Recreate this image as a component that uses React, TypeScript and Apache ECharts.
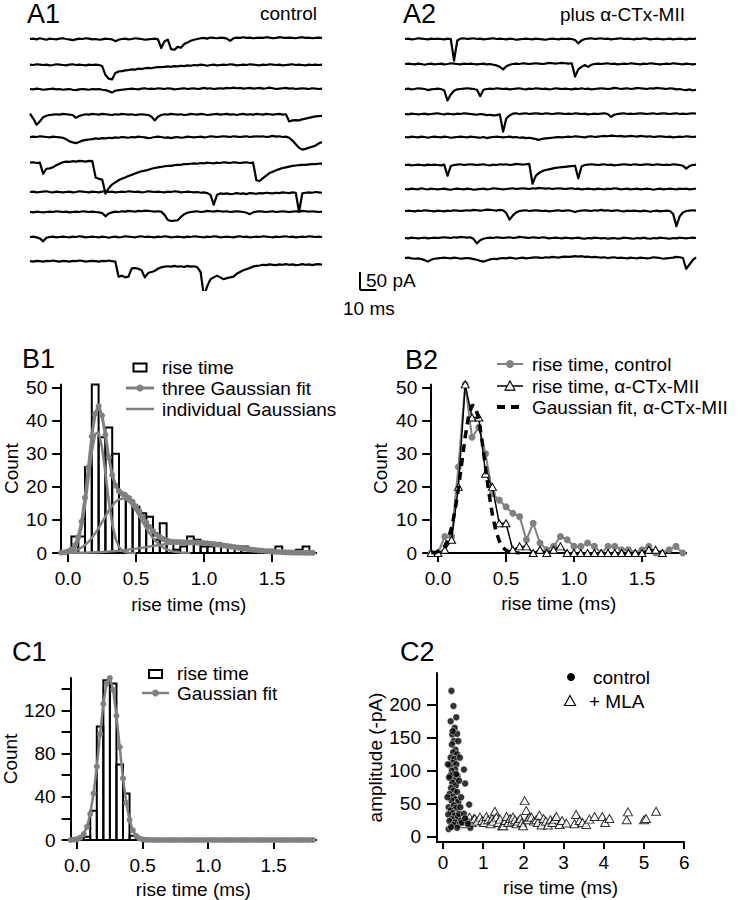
import React, { useEffect, useRef } from "react";
import * as echarts from "echarts";

// ======================= DATA =======================
// A1 control traces (pA, relative to each trace's baseline), one sample per 2 ms
const A1_T1 = [0, 1, -1, 2, 0, -2, 1, 0, -1, 1, 2, 0, -1, -3, -1, 1, 0, 2, 1, -1, 0, -2, -1, 1, 0, -1, -6, -2, 0, 1, -1, 0, 2, 1, 0, -2, -1, 0, 1, -1, -25, -6, -2, -28, -30, -22, -24, -14, -10, -5, -2, 0, 2, 3, 1, 4, 3, 2, 4, 3, 1, -5, 2, 4, 3, 5, 3, 4, 2, 3, 4, 3, 5, 4, 2, 3, 5, 4, 3, 4, 3, 2, 4, 5, 3, 4, 2, 3, 4, 3];
const A1_T2 = [1, 0, 2, 1, 0, 1, -1, 0, 2, 1, 0, -1, 1, 2, 0, 1, 0, -1, 1, 0, 1, 0, -3, -28, -38, -40, -22, -18, -17, -15, -14, -12, -13, -10, -11, -9, -8, -9, -7, -6, -6, -5, -4, -5, -3, -4, -2, -3, -1, -2, 0, -1, 1, 0, -2, 0, 1, -1, 0, 1, 0, 2, 1, -1, 0, 1, 0, 2, 1, 0, -1, 1, 0, 2, 1, 0, 1, -1, 0, 1, 2, 0, 1, 0, -1, 1, 0, 1, 0, 1];
const A1_T3 = [0, -1, 1, 0, -2, -1, 0, 1, -1, 0, -2, -1, 0, -2, -3, -1, 0, -1, -2, 0, -1, 0, -2, -3, -6, -10, -5, -3, -2, -1, 0, 1, 0, -1, 1, 2, 0, 1, 0, 2, 1, 0, 2, 1, -1, 0, 1, 2, 0, 1, 2, 0, 1, 3, 1, 2, 0, 1, 2, 1, 3, 2, 4, 2, 3, 1, 2, 3, 1, 2, 3, 1, 2, 4, 2, 0, 1, 2, 3, 1, 2, 0, 1, 2, 1, 0, 2, 1, 0, 1];
const A1_T4 = [4, -10, -27, -18, -6, -2, 0, 1, 2, 1, 3, 2, 1, 0, -8, -3, 0, 2, 1, 3, 2, 1, 3, 2, 1, 0, 2, 1, 3, 2, 1, 2, 0, 1, 2, 1, 0, -4, -15, -5, 0, 2, 1, 3, 2, 1, 2, 0, 1, 3, 2, 1, 3, 2, 0, 1, 2, 3, 1, 2, 3, 1, 2, 0, 2, 3, 1, 2, 1, 3, 2, 1, 3, 2, 1, 2, 3, 1, 2, -18, -15, -14, -15, -12, -10, -8, -6, -4, -3, -2];
const A1_T5 = [0, 1, 0, 2, 1, 0, -1, 1, 0, -1, -2, -6, -12, -15, -17, -14, -10, -8, -7, -6, -4, -5, -3, -4, -2, -3, -1, -2, 0, -1, -2, 0, -1, 1, 0, -1, -3, -2, 0, 1, 0, -2, -1, -3, -1, 0, -2, -1, 1, 0, -1, 0, 1, -1, 0, 2, 1, 0, 1, 2, 1, 0, 2, 1, 0, 1, 2, 0, 1, 2, 1, 2, 0, 1, 3, 1, 2, 0, 1, -2, -10, -20, -30, -35, -33, -30, -27, -24, -18, -14];
const A1_T6 = [1, 2, 0, 1, -30, -16, -15, -12, -6, -2, 2, 4, 3, 5, 4, 6, 5, 4, 6, 5, -40, -44, -46, -85, -70, -60, -54, -48, -44, -40, -36, -33, -29, -26, -23, -21, -19, -16, -14, -12, -11, -9, -8, -8, -6, -5, -5, -3, -3, -2, -1, -2, 0, -1, 1, 0, -1, 1, 0, 2, 1, 0, 2, 1, 0, 1, 2, 0, 1, -48, -50, -42, -35, -28, -24, -20, -17, -14, -12, -10, -8, -7, -6, -5, -5, -4, -3, -3, -2, -2];
const A1_T7 = [0, 1, -1, 0, 1, 2, 0, -1, 1, 0, -1, 0, 1, -1, 0, 2, 1, 0, -1, 1, 0, -1, 1, 2, 0, 1, -1, 0, 1, 0, 2, 1, 0, 1, -1, 0, 2, 1, 0, 1, 0, -1, 1, 0, 2, 1, -1, 0, 1, 0, -1, 0, -2, -1, -3, -8, -35, -8, -4, -5, -4, -6, -5, -3, -5, -4, -6, -3, -4, -5, -3, -4, -2, -3, -4, -2, -3, -1, -2, -3, -1, -2, -55, -4, -2, -1, -2, 0, -1, -2];
const A1_T8 = [0, -1, 1, 0, -1, 0, 1, 0, 2, 1, 0, 1, -1, 0, 1, 0, 2, 1, 0, 1, 0, -1, -3, -12, -4, -1, 1, 0, 2, 1, 3, 2, 1, 3, 2, 4, 3, 2, 1, 2, 1, -8, -22, -25, -24, -23, -14, -6, -2, 0, 1, 2, 0, 1, 3, 2, 1, 3, 2, 1, 2, 0, 1, 2, 1, 0, -2, -6, -1, 1, 2, 1, 0, 1, 2, 0, 1, 2, 1, 0, 1, 2, 1, 3, 2, 1, 2, 1, 0, 1];
const A1_T9 = [0, 1, -1, -4, -12, -2, 0, 1, -1, 0, 1, 0, -1, 1, 0, 2, 1, -1, 0, 1, 0, -1, 1, 0, -2, 0, 1, -1, 0, 2, 1, 0, -1, 1, 2, 0, 1, 0, -1, 1, 0, 2, 1, -1, 0, 1, 0, -1, 1, 0, 2, 1, 0, -1, 1, 0, 2, 1, -1, 0, 1, 0, -1, 1, 2, 0, 1, -1, 0, 1, 0, 2, 1, 0, -1, 1, 0, 1, 2, 0, 1, -1, 0, 1, 0, 2, 1, 0, 1, 0];
const A1_T10 = [5, 4, 6, 5, 4, 6, 5, 7, 5, 4, 6, 5, 4, 6, 5, 7, 6, 4, 5, 6, 5, 4, 6, 5, 7, 5, 4, -38, -35, -40, -38, -15, -14, -16, -20, -40, -28, -25, -22, -16, -12, -10, -9, -10, -8, -10, -9, -11, -8, -10, -9, -12, -25, -92, -65, -45, -40, -35, -40, -45, -42, -40, -38, -30, -25, -20, -17, -14, -10, -8, -7, -5, -6, -4, -5, -6, -4, -5, -3, -5, -4, -6, -5, -3, -5, -4, -6, -4, -3, -5];

// A2 plus alpha-CTx-MII traces
const A2_T1 = [0, 1, -1, 0, 2, 1, 0, -1, 1, 0, 1, 0, -1, 1, 0, -60, -4, 1, 2, 0, 1, 2, 0, 1, -1, 0, 1, 2, 0, 1, 0, -1, 1, 0, -2, -1, 0, 1, 0, -1, 1, 0, -1, -2, 0, 1, 0, -1, 1, 0, 1, 0, -3, -12, -4, 0, 1, 2, 0, 1, 2, 0, 1, -1, 0, 1, 2, 0, 1, 0, -1, 1, 0, 2, 1, -1, 0, 1, 0, -1, 0, 1, -1, 0, 1, 0, -1, 1, 0, 1];
const A2_T2 = [0, 1, 0, -1, 1, 0, -2, 0, 1, -1, 0, 1, -1, 0, 2, 1, 0, -1, 1, 0, 1, 0, -1, 0, 1, -1, 0, -2, -4, -8, -15, -6, -2, 0, 1, 0, 2, 1, 0, 1, 2, 1, 0, 1, 3, 2, 1, 2, 3, 2, 1, 2, -35, -15, -8, -3, -8, -2, 0, 1, 0, 1, 2, 0, 1, -1, 0, 1, 0, 2, 1, 0, -1, 1, 0, 2, 1, 0, -1, 0, 1, 0, 2, 1, 0, -1, 1, 0, -1, 0];
const A2_T3 = [0, 1, -1, 0, 2, 1, 0, -3, -1, 0, 1, 0, -4, -32, -15, -5, -1, 0, 1, 2, 1, 0, -2, -20, -2, 0, 1, 0, 2, 1, 0, 1, -1, 0, 1, 2, 0, -1, 1, 0, 2, 1, 0, 1, -1, 0, 2, 1, 0, 1, 0, -1, 1, 0, 2, 0, 1, -1, 0, 1, 2, 1, 0, 1, 3, 2, 0, 1, 2, 0, 1, 3, 2, 1, 0, 2, 1, 3, 2, 1, 0, 2, 1, -1, 0, -2, -3, -1, -4, -2];
const A2_T4 = [0, -1, 1, 0, -1, 0, 1, -1, 0, 1, 2, 0, -1, 1, 0, -1, 1, 0, 2, 1, 0, -1, -2, 0, -1, -3, -2, -4, -3, -1, -49, -12, -4, 1, 2, 0, 1, 2, 0, 1, 2, 1, 0, 2, 1, 0, 1, 2, 1, 0, 1, 0, 2, 1, 0, 1, -1, 0, 1, 0, 1, 2, 0, -8, -2, 0, 1, 2, 0, 1, 0, 1, 2, 1, 0, 1, 2, 0, 1, 2, 1, 0, 1, 2, 0, 1, 0, 1, 2, 1];
const A2_T5 = [0, -1, 1, 0, -1, 1, 0, -2, 0, 1, 0, -1, 1, 0, -2, -1, 0, 1, 0, -1, 1, 0, -1, -2, 0, -3, -1, 0, 1, 0, -1, 0, 1, -1, 0, -2, -1, -3, -2, -4, -6, -8, -5, -4, -3, -2, -1, 0, -1, 0, 1, 0, 2, 1, 0, -1, 1, 2, 0, 1, 2, 3, 2, 4, 3, 2, 3, 1, 2, 3, 2, 1, 3, 2, 1, 2, 0, 1, 2, 1, 0, 1, -1, 0, 1, 0, 2, 1, 0, 1];
const A2_T6 = [0, 1, -1, 0, 1, 0, -1, 1, 0, 1, 0, -1, 1, -30, -3, 0, 1, 2, 0, 1, 2, 1, 0, 1, 2, 0, -1, 1, 0, 2, 1, 2, 0, 1, 3, 2, 1, 2, 3, -52, -30, -22, -17, -14, -12, -10, -8, -7, -6, -5, -4, -3, -2, -37, -4, 0, 1, 2, 1, 0, 1, 2, 0, 1, -1, 0, 1, 2, 1, 0, 2, 1, 0, 1, 2, 1, 0, 2, 1, 0, 1, 0, 2, 1, 0, -2, -10, -3, 0, 1];
const A2_T7 = [0, -1, 1, 0, -1, 2, 0, -1, 1, 0, -1, 0, 1, -1, -2, 0, 1, 0, -1, 1, 0, -2, -1, 0, 1, -1, 0, 2, 1, 0, -1, 0, 1, 2, 0, 1, 2, 1, 0, 2, 1, 3, 2, 1, 2, 0, 1, 2, 1, 0, 1, 2, 0, 1, -1, 0, 1, 0, -1, 1, 0, -1, 1, 0, 2, 1, -1, 0, 1, -1, 0, 1, -1, 0, 1, 0, -2, 0, 1, -1, 0, 1, 0, -1, 1, 0, 1, -1, 0, 1];
const A2_T8 = [0, 1, 0, -1, 1, 0, 2, 1, 0, -1, 1, 0, -1, 1, 0, 2, 1, 0, 1, 2, 1, 3, 2, 1, 2, 4, 3, 2, 1, 3, 2, -6, -24, -12, -4, 0, 1, 2, 0, 1, 2, 1, 0, 1, -1, 0, 1, 2, 0, 1, 2, 0, -3, 0, 1, 2, 1, 0, 2, 1, 3, 1, 2, 0, 1, 2, 0, -1, 1, 0, 1, 0, -1, 1, 0, -2, 0, 1, -1, 0, 1, 0, -8, -42, -15, -4, 0, 1, 2, 1];
const A2_T9 = [0, -1, 1, 0, -1, 0, 1, -1, 0, 1, 0, 1, 2, 1, 0, 2, 1, 3, 2, 1, 2, -3, -15, -6, -2, 0, 1, 0, 2, 1, 0, 1, 2, 0, 1, 3, 2, 1, 0, 2, 1, 0, 2, 1, -1, 0, 1, 0, -1, 1, 0, -1, 0, 1, -1, -2, 0, -1, 1, 0, -1, 0, -2, -1, 0, -2, -1, 1, 0, -1, -2, 0, -1, 1, -1, -2, 0, -1, 1, 0, -1, -2, 0, -1, 1, 0, -1, 0, 1, 0];
const A2_T10 = [0, 1, -1, -2, -1, -3, -6, -10, -5, -2, -1, 0, 1, 0, -1, 1, 0, -2, -1, 0, -1, -3, -5, -8, -10, -7, -4, -2, -3, -1, 0, -1, 1, 0, -2, 0, 1, -1, 0, 1, 2, 1, 0, 2, 1, 3, 2, 1, 3, 4, 3, 4, 5, 4, 5, 3, 4, 2, 3, 2, 1, 2, 0, 1, 2, 0, 1, 0, -1, 1, 0, -1, 1, 0, -1, 0, 2, 1, 0, -2, -1, 0, 1, 3, 2, 0, -30, -18, -6, 2];

// B: rise-time distributions (ms, counts)
const RISE_X = [-0.05, 0, 0.05, 0.1, 0.15, 0.2, 0.25, 0.3, 0.35, 0.4, 0.45, 0.5, 0.55, 0.6, 0.65, 0.7, 0.75, 0.8, 0.85, 0.9, 0.95, 1.0, 1.05, 1.1, 1.15, 1.2, 1.25, 1.3, 1.35, 1.4, 1.45, 1.5, 1.55, 1.6, 1.65, 1.7, 1.75, 1.8];
const CONTROL_COUNTS = [0, 0, 5, 5, 26, 51, 35, 38, 30, 18, 16, 14, 12, 11, 4, 9, 3, 1, 2, 5, 4, 2, 2, 3, 2, 0, 2, 2, 1, 1, 0, 1, 2, 0, 0, 1, 2, 0];
const MII_COUNTS = [0, 0, 1, 4, 20, 51, 41, 41, 24, 20, 9, 9, 1, 2, 2, 0, 1, 0, 1, 2, 0, 0, 0, 0, 0, 0, 0, 0, 0, 0, 0, 0, 1, 1, 0];

// fit curves sampled every 0.025 ms
const FIT_X = [-0.05, -0.025, 0, 0.025, 0.05, 0.075, 0.1, 0.125, 0.15, 0.175, 0.2, 0.225, 0.25, 0.275, 0.3, 0.325, 0.35, 0.375, 0.4, 0.425, 0.45, 0.475, 0.5, 0.525, 0.55, 0.575, 0.6, 0.625, 0.65, 0.675, 0.7, 0.725, 0.75, 0.775, 0.8, 0.825, 0.85, 0.875, 0.9, 0.925, 0.95, 0.975, 1.0, 1.025, 1.05, 1.075, 1.1, 1.125, 1.15, 1.175, 1.2, 1.225, 1.25, 1.275, 1.3, 1.325, 1.35, 1.375, 1.4, 1.425, 1.45, 1.475, 1.5, 1.525, 1.55, 1.575, 1.6, 1.625, 1.65, 1.675, 1.7, 1.725, 1.75, 1.775, 1.8];
const THREE_GAUSS_FIT = [0.1, 0.2, 0.5, 1.0, 2.3, 4.8, 9.5, 16.7, 25.9, 35.3, 42.2, 44.4, 41.6, 35.7, 28.9, 23.6, 20.4, 18.7, 17.9, 17.3, 16.6, 15.5, 14.1, 12.6, 10.9, 9.3, 7.9, 6.6, 5.6, 4.8, 4.2, 3.8, 3.5, 3.4, 3.3, 3.3, 3.25, 3.24, 3.22, 3.19, 3.16, 3.1, 3.03, 2.93, 2.82, 2.7, 2.56, 2.42, 2.26, 2.1, 1.94, 1.78, 1.62, 1.47, 1.32, 1.17, 1.04, 0.91, 0.8, 0.69, 0.6, 0.51, 0.43, 0.36, 0.31, 0.25, 0.21, 0.17, 0.14, 0.11, 0.09, 0.07, 0.06, 0.05, 0.04];
const GAUSS_1 = [0.01, 0.04, 0.16, 0.52, 1.48, 3.64, 7.7, 14.2, 22.4, 30.6, 36.0, 36.6, 32.0, 24.2, 15.7, 8.8, 4.3, 1.8, 0.64, 0.2, 0.05, 0.01, 0];
const GAUSS_2 = [0.09, 0.16, 0.28, 0.46, 0.72, 1.12, 1.66, 2.4, 3.35, 4.54, 5.95, 7.55, 9.3, 11.1, 12.8, 14.3, 15.5, 16.2, 16.5, 16.2, 15.5, 14.3, 12.8, 11.1, 9.3, 7.55, 5.95, 4.54, 3.35, 2.4, 1.66, 1.12, 0.72, 0.46, 0.28, 0.16, 0.09, 0.05, 0.02];
const GAUSS_3 = [0.02, 0.03, 0.04, 0.05, 0.06, 0.07, 0.09, 0.11, 0.14, 0.17, 0.21, 0.25, 0.31, 0.36, 0.43, 0.51, 0.6, 0.69, 0.8, 0.91, 1.04, 1.17, 1.32, 1.47, 1.62, 1.78, 1.94, 2.1, 2.26, 2.42, 2.56, 2.7, 2.82, 2.93, 3.03, 3.1, 3.16, 3.19, 3.2, 3.19, 3.16, 3.1, 3.03, 2.93, 2.82, 2.7, 2.56, 2.42, 2.26, 2.1, 1.94, 1.78, 1.62, 1.47, 1.32, 1.17, 1.04, 0.91, 0.8, 0.69, 0.6, 0.51, 0.43, 0.36, 0.31, 0.25, 0.21, 0.17, 0.14, 0.11, 0.09, 0.07, 0.06, 0.05, 0.04];
const MII_GAUSS_FIT = [0.06, 0.16, 0.42, 0.99, 2.1, 4.2, 7.7, 12.8, 19.5, 27.3, 35.1, 41.4, 44.7, 44.3, 40.3, 33.6, 25.7, 18.0, 11.6, 6.8, 3.7, 1.8, 0.83, 0.35, 0.13, 0.05, 0.02];

// C1: rise time with MLA
const C1_BIN_X = [0.075, 0.125, 0.175, 0.225, 0.275, 0.325, 0.375, 0.425, 0.475];
const C1_COUNTS = [3, 27, 105, 148, 145, 70, 43, 4, 1];
const C1_GAUSS_FIT = [0.08, 0.26, 0.81, 2.2, 5.5, 12.2, 24.1, 43, 68, 98, 126, 145, 150, 139, 115, 86, 57, 34.5, 18.6, 9.0, 3.9, 1.5, 0.5, 0.17, 0.05, 0, 0, 0, 0, 0, 0, 0, 0, 0, 0, 0, 0, 0, 0, 0, 0, 0, 0, 0, 0, 0, 0, 0, 0, 0, 0, 0, 0, 0, 0, 0, 0, 0, 0, 0, 0, 0, 0, 0, 0, 0, 0, 0, 0, 0, 0, 0, 0, 0, 0];

// C2: amplitude (-pA) vs rise time (ms)
const C2_CONTROL = [[0.21, 221], [0.26, 198], [0.19, 175], [0.33, 181], [0.29, 165], [0.23, 155], [0.35, 156], [0.27, 145], [0.22, 140], [0.31, 132], [0.25, 128], [0.35, 125], [0.19, 120], [0.28, 118], [0.24, 112], [0.17, 108], [0.33, 110], [0.30, 102], [0.22, 100], [0.26, 95], [0.36, 92], [0.18, 93], [0.29, 86], [0.23, 82], [0.32, 78], [0.20, 74], [0.27, 70], [0.35, 68], [0.16, 65], [0.25, 61], [0.31, 57], [0.21, 55], [0.38, 53], [0.14, 45], [0.27, 48], [0.33, 44], [0.19, 40], [0.24, 36], [0.29, 32], [0.13, 34], [0.37, 30], [0.22, 27], [0.16, 24], [0.30, 22], [0.41, 20], [0.26, 18], [0.14, 12], [0.35, 14], [0.20, 15], [0.45, 25], [0.40, 35], [0.52, 102], [0.55, 81], [0.45, 60], [0.65, 49], [0.52, 35], [0.68, 14], [0.60, 24], [0.42, 120], [0.38, 145], [0.12, 110], [0.15, 90], [0.40, 85], [0.43, 45], [0.11, 60], [0.47, 22], [0.55, 28], [0.62, 20], [0.33, 95], [0.24, 160]];
const C2_MLA = [[0.35, 22], [0.42, 26], [0.48, 20], [0.55, 28], [0.6, 24], [0.66, 30], [0.71, 22], [0.76, 27], [0.79, 28], [0.85, 24], [0.92, 30], [0.97, 25], [1.02, 22], [1.08, 31], [1.12, 26], [1.18, 20], [1.22, 28], [1.25, 24], [1.29, 39], [1.33, 30], [1.38, 22], [1.42, 27], [1.47, 17], [1.5, 17], [1.55, 25], [1.58, 31], [1.62, 22], [1.67, 28], [1.72, 24], [1.74, 30], [1.79, 26], [1.83, 20], [1.87, 24], [1.92, 28], [1.96, 22], [1.99, 17], [2.03, 55], [2.07, 40], [2.1, 26], [2.15, 30], [2.2, 30], [2.26, 24], [2.32, 26], [2.36, 22], [2.4, 33], [2.45, 18], [2.5, 28], [2.56, 24], [2.61, 18], [2.67, 26], [2.72, 22], [2.78, 27], [2.82, 31], [2.9, 19], [2.96, 25], [3.07, 21], [3.27, 20], [3.31, 34], [3.4, 25], [3.47, 22], [3.56, 19], [3.64, 27], [3.77, 31], [3.96, 31], [4.03, 22], [4.14, 28], [4.57, 26], [4.6, 38], [5.0, 26], [5.05, 28], [5.3, 39]];

// tick values
const RISE_TICKS = [0, 0.5, 1, 1.5];
const B_COUNT_TICKS = [0, 10, 20, 30, 40, 50];
const C1_COUNT_TICKS = [0, 20, 40, 60, 80, 100, 120, 140];
const C1_COUNT_LABELS = [0, 40, 80, 120];
const C2_X_TICKS = [0, 1, 2, 3, 4, 5, 6];
const C2_Y_TICKS = [0, 50, 100, 150, 200];

// ======================= LAYOUT / STYLE =======================
const FONT = '"Liberation Sans", Arial, Helvetica, sans-serif';
const GRAY = "#808080";
const FS = 19;
const TRACE_TOP = 20;
const TRACE_H = 270;
const PX_PER_PA = 0.36;
const MS_PER_SAMPLE = 2;
const A1_BASE_PX = [39, 65, 89, 115, 137, 163, 192, 212, 237, 263];
const A2_BASE_PX = [39, 64, 89, 114, 137, 165, 189, 211, 238, 258];
const B_BIN = 0.05;
const C1_BIN = 0.05;

const paOffset = (px: number) => -(px - TRACE_TOP) / PX_PER_PA;
const zip = (xs: number[], ys: number[]) => ys.map((y, i) => [xs[i], y]);

function valueAxis(o: any) {
  return {
    type: "value",
    gridIndex: o.grid,
    min: o.min,
    max: o.max,
    axisLine: { show: true, onZero: false, lineStyle: { color: "#000", width: 2 } },
    axisTick: { show: true, inside: false, length: o.tickLen, lineStyle: { color: "#000", width: 2 }, customValues: o.ticks },
    axisLabel: {
      show: true, margin: o.margin, color: "#000", fontSize: FS, fontFamily: FONT,
      customValues: o.labels, hideOverlap: false,
      formatter: o.fmt || ((v: number) => String(v)),
    },
    splitLine: { show: false },
    name: o.name,
    nameLocation: "middle",
    nameGap: o.nameGap,
    nameTextStyle: { color: "#000", fontSize: FS, fontFamily: FONT },
  };
}

function histSeries(name: string, grid: number, centers: number[], counts: number[], width: number) {
  return {
    type: "custom",
    name,
    xAxisIndex: grid,
    yAxisIndex: grid,
    data: zip(centers, counts).filter((d) => d[1] > 0),
    renderItem: (_p: any, api: any) => {
      const c = api.value(0);
      const v = api.value(1);
      const tl = api.coord([c - width / 2, v]);
      const br = api.coord([c + width / 2, 0]);
      return {
        type: "rect",
        shape: { x: tl[0], y: tl[1], width: br[0] - tl[0], height: br[1] - tl[1] },
        style: { fill: "none", stroke: "#000", lineWidth: 2 },
      };
    },
    z: 2,
  };
}

function txt(x: number, y: number, text: string, size = FS, lineHeight?: number) {
  return {
    type: "text", x, y,
    style: { text, fontSize: size, fontFamily: FONT, fill: "#000", align: "left", verticalAlign: "middle", lineHeight: lineHeight || size + 2 },
  };
}
function ln(x1: number, y1: number, x2: number, y2: number, stroke: string, w: number, dash?: number[]) {
  return { type: "line", shape: { x1, y1, x2, y2 }, style: { stroke, lineWidth: w, lineDash: dash } };
}
function tri(cx: number, cy: number, s: number) {
  return {
    type: "polygon",
    shape: { points: [[cx, cy - s * 0.55], [cx + s * 0.55, cy + s * 0.45], [cx - s * 0.55, cy + s * 0.45]] },
    style: { fill: "#fff", stroke: "#000", lineWidth: 1.2 },
  };
}

function buildOption() {
  const series: any[] = [];
  const traceSeries = (traces: number[][], base: number[], grid: number) => {
    traces.forEach((tr, k) => {
      const off = paOffset(base[k]);
      series.push({
        type: "line", xAxisIndex: grid, yAxisIndex: grid, silent: true,
        showSymbol: false, symbol: "none",
        data: tr.map((v, i) => [i, off + v]),
        lineStyle: { color: "#000", width: 2.2, join: "round" },
      });
    });
  };
  traceSeries([A1_T1, A1_T2, A1_T3, A1_T4, A1_T5, A1_T6, A1_T7, A1_T8, A1_T9, A1_T10], A1_BASE_PX, 0);
  traceSeries([A2_T1, A2_T2, A2_T3, A2_T4, A2_T5, A2_T6, A2_T7, A2_T8, A2_T9, A2_T10], A2_BASE_PX, 1);

  // B1
  series.push(histSeries("rise time", 2, RISE_X, CONTROL_COUNTS, B_BIN));
  [GAUSS_1, GAUSS_2, GAUSS_3].forEach((g) =>
    series.push({
      type: "line", name: "individual Gaussians", xAxisIndex: 2, yAxisIndex: 2,
      showSymbol: false, symbol: "none", data: zip(FIT_X, g),
      lineStyle: { color: GRAY, width: 2.5 }, z: 3,
    })
  );
  series.push({
    type: "line", name: "three Gaussian fit", xAxisIndex: 2, yAxisIndex: 2,
    symbol: "circle", symbolSize: 6, showAllSymbol: true, data: zip(FIT_X, THREE_GAUSS_FIT),
    itemStyle: { color: GRAY }, lineStyle: { color: GRAY, width: 3 }, z: 4,
  });

  // B2
  series.push({
    type: "line", name: "rise time, control", xAxisIndex: 3, yAxisIndex: 3,
    symbol: "circle", symbolSize: 7, showAllSymbol: true, data: zip(RISE_X, CONTROL_COUNTS),
    itemStyle: { color: GRAY }, lineStyle: { color: GRAY, width: 2 }, z: 3,
  });
  series.push({
    type: "line", name: "rise time, α-CTx-MII", xAxisIndex: 3, yAxisIndex: 3,
    symbol: "triangle", symbolSize: [8, 7], showAllSymbol: true, data: zip(RISE_X, MII_COUNTS),
    itemStyle: { color: "#fff", borderColor: "#000", borderWidth: 1 }, lineStyle: { color: "#000", width: 1.5 }, z: 4,
  });
  series.push({
    type: "line", name: "Gaussian fit, α-CTx-MII", xAxisIndex: 3, yAxisIndex: 3,
    showSymbol: false, symbol: "none", data: zip(FIT_X, MII_GAUSS_FIT),
    lineStyle: { color: "#000", width: 3.5, type: [8, 6] }, z: 5,
  });

  // C1
  series.push(histSeries("rise time", 4, C1_BIN_X, C1_COUNTS, C1_BIN));
  series.push({
    type: "line", name: "Gaussian fit", xAxisIndex: 4, yAxisIndex: 4,
    symbol: "circle", symbolSize: 6, showAllSymbol: true, data: zip(FIT_X, C1_GAUSS_FIT),
    itemStyle: { color: GRAY }, lineStyle: { color: GRAY, width: 2.5 }, z: 4,
  });

  // C2
  series.push({
    type: "scatter", name: "+ MLA", xAxisIndex: 5, yAxisIndex: 5, data: C2_MLA,
    symbol: "triangle", symbolSize: [9, 8],
    itemStyle: { color: "#fff", borderColor: "#000", borderWidth: 1 }, z: 3,
  });
  series.push({
    type: "scatter", name: "control", xAxisIndex: 5, yAxisIndex: 5, data: C2_CONTROL,
    symbol: "circle", symbolSize: 7,
    itemStyle: { color: "#000", borderColor: "#fff", borderWidth: 0.6 }, z: 4,
  });

  const riseFmt = (v: number) => v.toFixed(1);
  const traceXMax = A1_T1.length - 1;
  const traceYMin = -TRACE_H / PX_PER_PA;

  // scale bar geometry derived from the trace scales
  const sbX = 360;
  const sbBottom = 290;
  const sbV = 50 * PX_PER_PA;
  const sbH = (10 / MS_PER_SAMPLE) * (292 / traceXMax);

  return {
    animation: false,
    backgroundColor: "#fff",
    grid: [
      { left: 30, top: TRACE_TOP, width: 292, height: TRACE_H },
      { left: 405, top: TRACE_TOP, width: 291, height: TRACE_H },
      { left: 61.2, top: 384.4, width: 255, height: 168.6 },
      { left: 431.2, top: 384.4, width: 255, height: 168.6 },
      { left: 61.2, top: 678, width: 255, height: 165 },
      { left: 437, top: 673, width: 247.2, height: 169 },
    ],
    xAxis: [
      { type: "value", gridIndex: 0, min: 0, max: traceXMax, show: false },
      { type: "value", gridIndex: 1, min: 0, max: traceXMax, show: false },
      valueAxis({ grid: 2, min: -0.05, max: 1.825, ticks: RISE_TICKS, labels: RISE_TICKS, tickLen: 9, margin: 16, fmt: riseFmt, name: "rise time (ms)", nameGap: 42 }),
      valueAxis({ grid: 3, min: -0.05, max: 1.825, ticks: RISE_TICKS, labels: RISE_TICKS, tickLen: 9, margin: 16, fmt: riseFmt, name: "rise time (ms)", nameGap: 41 }),
      valueAxis({ grid: 4, min: -0.05, max: 1.825, ticks: RISE_TICKS, labels: RISE_TICKS, tickLen: 9, margin: 16, fmt: riseFmt, name: "rise time (ms)", nameGap: 40 }),
      valueAxis({ grid: 5, min: -0.15, max: 6, ticks: C2_X_TICKS, labels: C2_X_TICKS, tickLen: 7, margin: 11, name: "rise time (ms)", nameGap: 36 }),
    ],
    yAxis: [
      { type: "value", gridIndex: 0, min: traceYMin, max: 0, show: false },
      { type: "value", gridIndex: 1, min: traceYMin, max: 0, show: false },
      valueAxis({ grid: 2, min: 0, max: 51, ticks: B_COUNT_TICKS, labels: B_COUNT_TICKS, tickLen: 9, margin: 14, name: "Count", nameGap: 40 }),
      valueAxis({ grid: 3, min: 0, max: 51, ticks: B_COUNT_TICKS, labels: B_COUNT_TICKS, tickLen: 9, margin: 14, name: "Count", nameGap: 41 }),
      valueAxis({ grid: 4, min: 0, max: 150, ticks: C1_COUNT_TICKS, labels: C1_COUNT_LABELS, tickLen: 9, margin: 15, name: "Count", nameGap: 38 }),
      valueAxis({ grid: 5, min: -7.6, max: 248, ticks: C2_Y_TICKS, labels: C2_Y_TICKS, tickLen: 10, margin: 16, name: "amplitude (-pA)", nameGap: 48 }),
    ],
    series,
    graphic: {
      elements: [
        // panel labels & titles
        txt(27, 14, "A1", 27, 24),
        txt(260, 13, "control", FS, 20),
        txt(403, 14, "A2", 27, 24),
        txt(560, 14, "plus α-CTx-MII", FS, 20),
        txt(22, 359, "B1", 27),
        txt(405, 360, "B2", 27),
        txt(12, 652, "C1", 27),
        txt(400, 652, "C2", 27),
        // scale bar
        ln(sbX, sbBottom - sbV, sbX, sbBottom, "#000", 2),
        ln(sbX, sbBottom, sbX + sbH, sbBottom, "#000", 2),
        txt(sbX + 6, 280, "50 pA"),
        txt(343, 308, "10 ms"),
        // B1 legend
        { type: "rect", shape: { x: 133.5, y: 363.5, width: 13, height: 8 }, style: { fill: "none", stroke: "#000", lineWidth: 2 } },
        txt(162, 367, "rise time"),
        ln(126, 388, 154, 388, GRAY, 3),
        { type: "circle", shape: { cx: 140, cy: 388, r: 3.5 }, style: { fill: GRAY } },
        txt(162, 388, "three Gaussian fit"),
        ln(126, 409, 154, 409, GRAY, 2.5),
        txt(162, 409, "individual Gaussians"),
        // B2 legend
        ln(497, 364, 523, 364, GRAY, 2),
        { type: "circle", shape: { cx: 510, cy: 364, r: 4 }, style: { fill: GRAY } },
        txt(532, 364, "rise time, control"),
        ln(497, 386, 523, 386, "#000", 1.5),
        tri(510, 386, 9),
        txt(532, 386, "rise time, α-CTx-MII"),
        ln(497, 407, 525, 407, "#000", 4, [8, 6]),
        txt(532, 407, "Gaussian fit, α-CTx-MII"),
        // C1 legend
        { type: "rect", shape: { x: 149, y: 670, width: 13, height: 8 }, style: { fill: "none", stroke: "#000", lineWidth: 2 } },
        txt(177, 673, "rise time"),
        ln(142, 693, 169, 693, GRAY, 2.5),
        { type: "circle", shape: { cx: 155.5, cy: 693, r: 3.5 }, style: { fill: GRAY } },
        txt(177, 693, "Gaussian fit"),
        // C2 legend
        { type: "circle", shape: { cx: 571, cy: 677, r: 4 }, style: { fill: "#000" } },
        txt(593, 677, "control"),
        tri(570, 701, 10),
        txt(589, 701, "+ MLA"),
      ],
    },
  };
}

export default function App() {
  const ref = useRef<HTMLDivElement>(null);
  useEffect(() => {
    if (!ref.current) return;
    const chart = echarts.init(ref.current, null, { renderer: "svg" });
    chart.setOption(buildOption() as any);
    return () => chart.dispose();
  }, []);
  return (
    <div
      ref={ref}
      style={{ position: "absolute", left: 0, top: 0, width: 739, height: 900, background: "#fff" }}
    />
  );
}
